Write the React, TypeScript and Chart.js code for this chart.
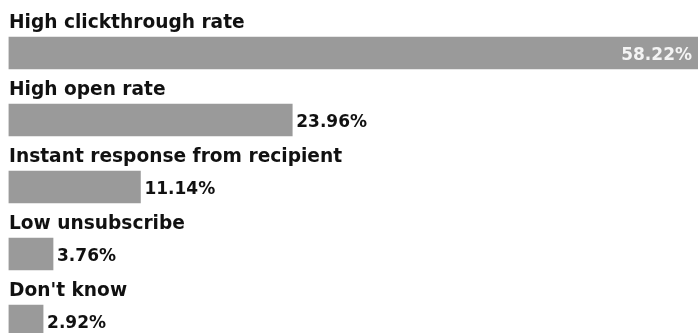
import { useEffect, useRef } from "react";
import { Chart, registerables } from "chart.js";

Chart.register(...registerables);

const categories = [
  "High clickthrough rate",
  "High open rate",
  "Instant response from recipient",
  "Low unsubscribe",
  "Don't know",
];
const values = [58.22, 23.96, 11.14, 3.76, 2.92];
const valueLabels = ["58.22%", "23.96%", "11.14%", "3.76%", "2.92%"];

export default function App() {
  const ref = useRef<HTMLCanvasElement>(null);

  useEffect(() => {
    const canvas = ref.current;
    if (!canvas) return;

    const rowLabels = {
      id: "rowLabels",
      afterDatasetsDraw(chart: any) {
        const ctx = chart.ctx;
        const meta = chart.getDatasetMeta(0);
        ctx.save();
        meta.data.forEach((bar: any, i: number) => {
          const { x, y, base, height } = bar.getProps(["x", "y", "base", "height"], true);
          const top = y - height / 2;
          ctx.font = "bold 18.6px 'DejaVu Sans'";
          ctx.fillStyle = "#111111";
          ctx.textAlign = "left";
          ctx.textBaseline = "alphabetic";
          ctx.fillText(categories[i], base + 0.5, top - 9);

          ctx.font = "bold 17px 'DejaVu Sans'";
          ctx.textBaseline = "alphabetic";
          const w = ctx.measureText(valueLabels[i]).width;
          if (x + 5 + w > chart.chartArea.right) {
            ctx.fillStyle = "#f4f4f4";
            ctx.textAlign = "right";
            ctx.fillText(valueLabels[i], x - 6, y + 7);
          } else {
            ctx.fillStyle = "#111111";
            ctx.textAlign = "left";
            ctx.fillText(valueLabels[i], x + 4, y + 7);
          }
        });
        ctx.restore();
      },
    };

    const chart = new Chart(canvas, {
      type: "bar",
      data: {
        labels: categories,
        datasets: [
          {
            data: values,
            backgroundColor: "#9a9a9a",
            borderWidth: 0,
            barThickness: 32,
          },
        ],
      },
      options: {
        indexAxis: "y",
        responsive: false,
        animation: false,
        layout: { padding: { left: 8.5, right: 0, top: 19.5, bottom: 5.5 } },
        plugins: { legend: { display: false }, tooltip: { enabled: false } },
        scales: {
          x: { display: false, min: 0, max: 58.22 },
          y: { display: false },
        },
      },
      plugins: [rowLabels],
    });
    return () => chart.destroy();
  }, []);

  return (
    <div
      style={{
        position: "fixed",
        left: 0,
        top: 0,
        width: 698,
        height: 333,
        overflow: "hidden",
        background: "#ffffff",
      }}
    >
      <canvas ref={ref} width={698} height={360} style={{ display: "block" }} />
    </div>
  );
}
